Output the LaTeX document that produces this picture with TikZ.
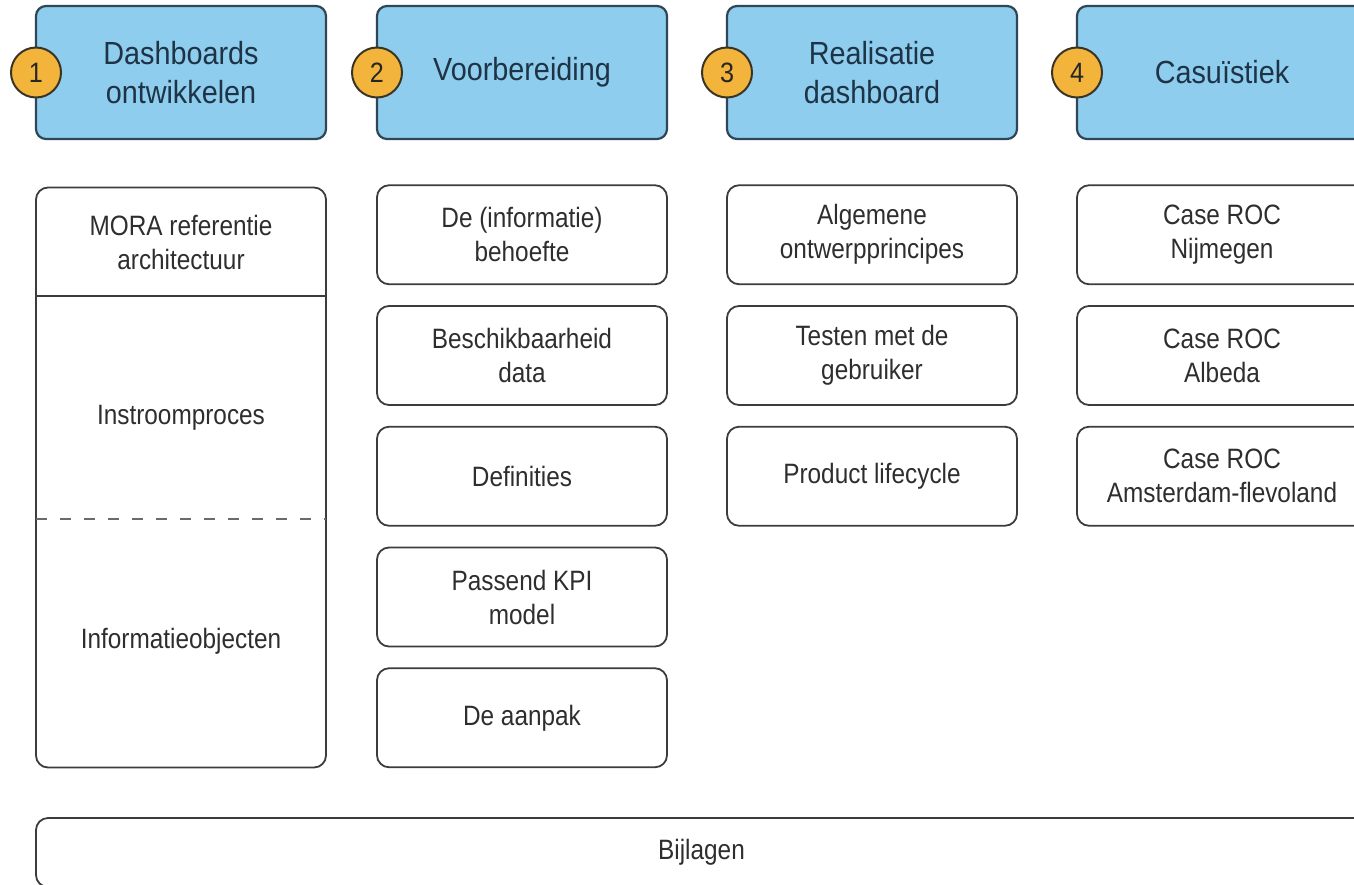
\documentclass[tikz,border=0pt]{standalone}
\usepackage{fontspec}
\setmainfont{Liberation Sans}[FakeStretch=0.87]
\newfontfamily\hdfont{Liberation Sans}[FakeStretch=0.90]
\definecolor{hdrfill}{HTML}{8ECDEE}
\definecolor{hdrline}{HTML}{2E4656}
\definecolor{hdrtext}{HTML}{1E3446}
\definecolor{badgefill}{HTML}{F3B43C}
\definecolor{badgeline}{HTML}{3A3426}
\definecolor{boxline}{HTML}{3C3C3C}
\definecolor{itemtext}{HTML}{2E2E2E}
\definecolor{dashcol}{HTML}{6A6A6A}
\begin{document}
\begin{tikzpicture}[x=1pt,y=-1pt,
  hdr/.style={draw=hdrline, line width=2.2pt, fill=hdrfill, rounded corners=10pt,
    minimum width=290pt, minimum height=133pt, align=center, text=hdrtext,
    font=\hdfont\fontsize{32}{39}\selectfont, inner sep=0pt, outer sep=0pt},
  badge/.style={circle, draw=badgeline, line width=2pt, fill=badgefill,
    minimum size=50pt, inner sep=0pt, font=\hdfont\fontsize{28}{28}\selectfont, text=badgetext},
  item/.style={draw=boxline, line width=1.8pt, rounded corners=12pt,
    minimum width=290pt, minimum height=99pt, align=center, text=itemtext,
    font=\fontsize{28}{34}\selectfont, inner sep=0pt, outer sep=0pt},
  txt/.style={align=center, text=itemtext, font=\fontsize{28}{34}\selectfont, inner sep=0pt},
  divider/.style={draw=boxline, line width=1.8pt},
  dashdiv/.style={draw=dashcol, line width=1.8pt, dash pattern=on 11pt off 13pt}
]
\colorlet{badgetext}{black!85}
\useasboundingbox (0,0) rectangle (1354,884);
\clip (0,0) rectangle (1354,884);

% headers
\node[hdr] (h1) at (181,72.5) {Dashboards\\ontwikkelen};
\node[hdr] (h2) at (522,72.5) {Voorbereiding};
\node[hdr] (h3) at (872,72.5) {Realisatie\\dashboard};
\node[hdr] (h4) at (1222,72.5) {Casuïstiek};
\node[badge] (b1) at (h1.west) {1};
\node[badge] (b2) at (h2.west) {2};
\node[badge] (b3) at (h3.west) {3};
\node[badge] (b4) at (h4.west) {4};

% column 1
\node[item, minimum height=580pt] (c1) at (181,477.5) {};
\node[txt] (c1a) at (181,242) {MORA referentie\\architectuur};
\node[txt] (c1b) at (181,418) {Instroomproces};
\node[txt] (c1c) at (181,641) {Informatieobjecten};
\coordinate (s1) at (0,296);
\coordinate (s2) at (0,519);
\draw[divider] (c1.west |- s1) -- (c1.east |- s1);
\draw[dashdiv] (c1.west |- s2) -- (c1.east |- s2);

% column 2
\node[item] (c2a) at (522,234.75) {De (informatie)\\behoefte};
\node[item] (c2b) at (522,355.5) {Beschikbaarheid\\data};
\node[item] (c2c) at (522,476.25) {Definities};
\node[item] (c2d) at (522,597) {Passend KPI\\model};
\node[item] (c2e) at (522,717.75) {De aanpak};

% column 3
\node[item] (c3a) at (872,234.75) {Algemene\\ontwerpprincipes};
\node[item] (c3b) at (872,355.5) {Testen met de\\gebruiker};
\node[item] (c3c) at (872,476.25) {Product lifecycle};

% column 4
\node[item] (c4a) at (1222,234.75) {Case ROC\\Nijmegen};
\node[item] (c4b) at (1222,355.5) {Case ROC\\Albeda};
\node[item] (c4c) at (1222,476.25) {Case ROC\\Amsterdam-flevoland};

% bottom
\node[item, minimum width=1331pt, minimum height=69pt] (bij) at (701.5,852.5) {Bijlagen};
\end{tikzpicture}
\end{document}
